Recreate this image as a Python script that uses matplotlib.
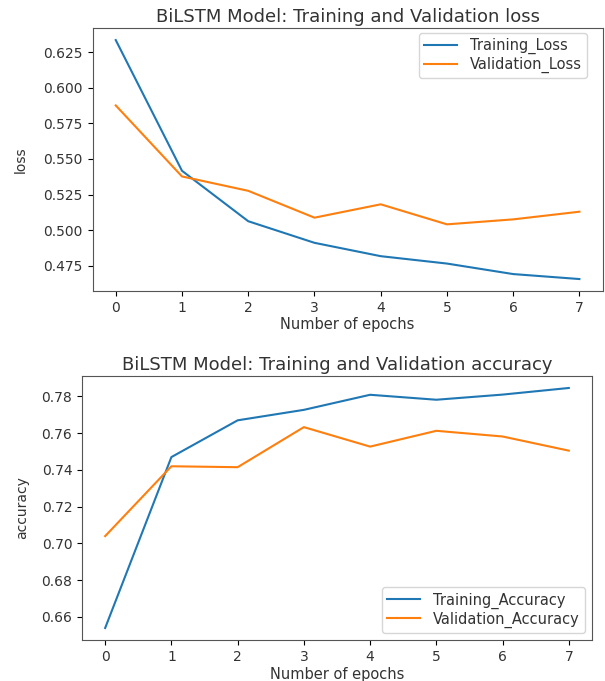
import matplotlib
matplotlib.use("Agg")
import matplotlib.pyplot as plt

epochs = [0, 1, 2, 3, 4, 5, 6, 7]
train_loss = [0.6337, 0.5417, 0.5062, 0.4910, 0.4816, 0.4764, 0.4690, 0.4655]
val_loss = [0.5877, 0.5377, 0.5276, 0.5087, 0.5181, 0.5040, 0.5075, 0.5129]
train_acc = [0.6540, 0.7470, 0.7670, 0.7727, 0.7809, 0.7782, 0.7810, 0.7846]
val_acc = [0.7040, 0.7420, 0.7415, 0.7633, 0.7527, 0.7613, 0.7582, 0.7505]

loss_ticks = [0.475, 0.500, 0.525, 0.550, 0.575, 0.600, 0.625]
acc_ticks = [0.66, 0.68, 0.70, 0.72, 0.74, 0.76, 0.78]

TXT = "#333333"
plt.rcParams["text.color"] = TXT
plt.rcParams["axes.labelcolor"] = TXT
plt.rcParams["xtick.labelcolor"] = TXT
plt.rcParams["ytick.labelcolor"] = TXT

fig = plt.figure(figsize=(6.05, 6.81), dpi=100)
ax1 = fig.add_axes([0.153, 0.5727, 0.843, 0.386])
ax2 = fig.add_axes([0.1355, 0.0602, 0.843, 0.3877])

for ax in (ax1, ax2):
    for s in ax.spines.values():
        s.set_edgecolor("#555555")

leg_kw = dict(fontsize=10.5, handlelength=2.3, handletextpad=0.85,
              labelspacing=0.18, borderpad=0.35)

ax1.plot(epochs, train_loss, label="Training_Loss")
ax1.plot(epochs, val_loss, label="Validation_Loss")
ax1.set_title("BiLSTM Model: Training and Validation loss", fontsize=13, pad=4.5)
ax1.set_xlabel("Number of epochs", fontsize=10.5, labelpad=2)
ax1.set_ylabel("loss", fontsize=10)
ax1.yaxis.set_label_coords(-0.128, 0.5)
ax1.set_yticks(loss_ticks)
ax1.tick_params(labelsize=10)
ax1.legend(loc="upper right", bbox_to_anchor=(0.969, 0.981), borderaxespad=0,
           **leg_kw)

ax2.plot(epochs, train_acc, label="Training_Accuracy")
ax2.plot(epochs, val_acc, label="Validation_Accuracy")
ax2.set_title("BiLSTM Model: Training and Validation accuracy", fontsize=13, pad=4.5)
ax2.set_xlabel("Number of epochs", fontsize=10.5, labelpad=2)
ax2.set_ylabel("accuracy", fontsize=10)
ax2.yaxis.set_label_coords(-0.104, 0.5)
ax2.set_yticks(acc_ticks)
ax2.tick_params(labelsize=10)
ax2.legend(loc="lower right", borderaxespad=0.5, **leg_kw)

fig.savefig("out.png", dpi=100)
